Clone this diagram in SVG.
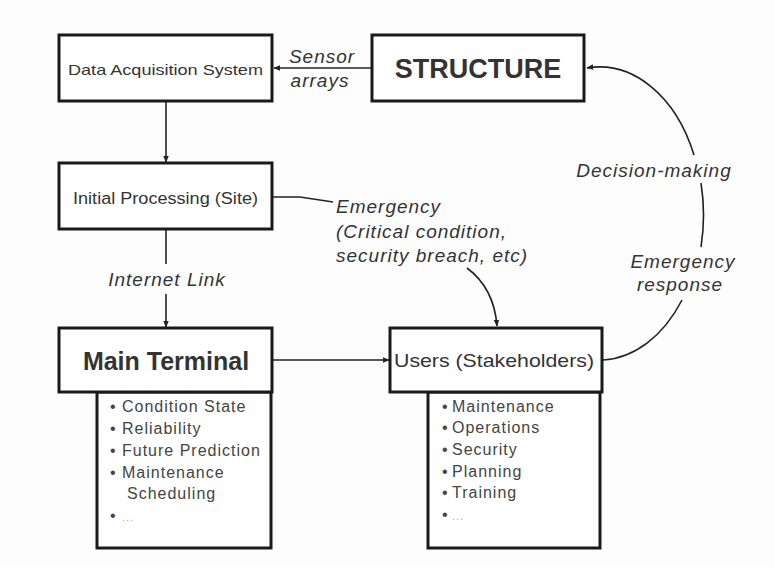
<svg xmlns="http://www.w3.org/2000/svg" width="775" height="567" viewBox="0 0 775 567">
<defs>
<marker id="ah" viewBox="0 0 10 10" refX="9" refY="5" markerWidth="7" markerHeight="7" markerUnits="userSpaceOnUse" orient="auto">
<path d="M0,1 L10,5 L0,9 Z" fill="#222"/>
</marker>
<style>
.box{fill:#fff;stroke:#1a1a1a;stroke-width:3}
.t{font-family:"Liberation Sans",Arial,sans-serif;fill:#333}
.lbl{font-family:"Liberation Sans",Arial,sans-serif;font-style:italic;font-size:19px;letter-spacing:1px;fill:#333}
.bul{font-family:"Liberation Sans",Arial,sans-serif;font-size:16px;letter-spacing:1px;fill:#444}
.ln{fill:none;stroke:#222;stroke-width:1.6}
</style>
</defs>
<rect width="775" height="567" fill="#fdfdfd"/>
<g id="connectors">
<line class="ln" x1="372" y1="68" x2="274" y2="68" marker-end="url(#ah)"/>
<line class="ln" x1="166" y1="101" x2="166" y2="162" marker-end="url(#ah)"/>
<line class="ln" x1="166" y1="229" x2="166" y2="264"/>
<line class="ln" x1="166" y1="294" x2="166" y2="327" marker-end="url(#ah)"/>
<line class="ln" x1="272" y1="360" x2="389" y2="360" marker-end="url(#ah)"/>
<path class="ln" d="M272,197 L300,197 L333,202"/>
<path class="ln" d="M467,268 Q494,288 497,326" marker-end="url(#ah)"/>
<path class="ln" d="M694,155 A103,146 0 0 0 587,68" marker-end="url(#ah)"/>
<path class="ln" d="M701,183 A103,146 0 0 1 701,247"/>
<path class="ln" d="M682,300 A103,146 0 0 1 603,360"/>
</g>
<g id="labels">
<text class="lbl" x="322" y="63" text-anchor="middle">Sensor</text>
<text class="lbl" x="320" y="87" text-anchor="middle">arrays</text>
<text class="lbl" x="167" y="286" text-anchor="middle">Internet Link</text>
<text class="lbl" x="336" y="213">Emergency</text>
<text class="lbl" x="336" y="238">(Critical condition,</text>
<text class="lbl" x="336" y="262">security breach, etc)</text>
<text class="lbl" x="654" y="177" text-anchor="middle">Decision-making</text>
<text class="lbl" x="683" y="268" text-anchor="middle">Emergency</text>
<text class="lbl" x="680" y="291" text-anchor="middle">response</text>
</g>
<g id="das">
<rect class="box" x="59" y="35" width="213" height="66"/>
<text class="t" x="165.5" y="75" font-size="15" text-anchor="middle" textLength="195" lengthAdjust="spacingAndGlyphs">Data Acquisition System</text>
</g>
<g id="structure">
<rect class="box" x="372" y="35" width="212" height="66"/>
<text class="t" x="478" y="78" font-size="27" font-weight="bold" text-anchor="middle">STRUCTURE</text>
</g>
<g id="initial">
<rect class="box" x="59" y="163" width="213" height="66"/>
<text class="t" x="165.5" y="204" font-size="16" text-anchor="middle" textLength="185" lengthAdjust="spacingAndGlyphs">Initial Processing (Site)</text>
</g>
<g id="main-terminal">
<rect class="box" x="97" y="392" width="174" height="156"/>
<rect class="box" x="59" y="328" width="213" height="64"/>
<text class="t" x="166" y="370" font-size="25" font-weight="bold" text-anchor="middle">Main Terminal</text>
<text class="bul" y="412"><tspan x="110">•</tspan><tspan x="122">Condition State</tspan></text>
<text class="bul" y="434"><tspan x="110">•</tspan><tspan x="122">Reliability</tspan></text>
<text class="bul" y="456"><tspan x="110">•</tspan><tspan x="122">Future Prediction</tspan></text>
<text class="bul" y="478"><tspan x="110">•</tspan><tspan x="122">Maintenance</tspan></text>
<text class="bul" x="127" y="499">Scheduling</text>
<text class="bul" y="521"><tspan x="110">•</tspan><tspan x="122" fill="#aaa" font-size="11">...</tspan></text>
</g>
<g id="users">
<rect class="box" x="428" y="392" width="172" height="156"/>
<rect class="box" x="390" y="328" width="212" height="64"/>
<text class="t" x="494" y="367" font-size="19" text-anchor="middle" textLength="200" lengthAdjust="spacingAndGlyphs">Users (Stakeholders)</text>
<text class="bul" y="412"><tspan x="442">•</tspan><tspan x="452">Maintenance</tspan></text>
<text class="bul" y="433"><tspan x="442">•</tspan><tspan x="452">Operations</tspan></text>
<text class="bul" y="455"><tspan x="442">•</tspan><tspan x="452">Security</tspan></text>
<text class="bul" y="477"><tspan x="442">•</tspan><tspan x="452">Planning</tspan></text>
<text class="bul" y="498"><tspan x="442">•</tspan><tspan x="452">Training</tspan></text>
<text class="bul" y="520"><tspan x="442">•</tspan><tspan x="452" fill="#aaa" font-size="11">...</tspan></text>
</g>
</svg>
